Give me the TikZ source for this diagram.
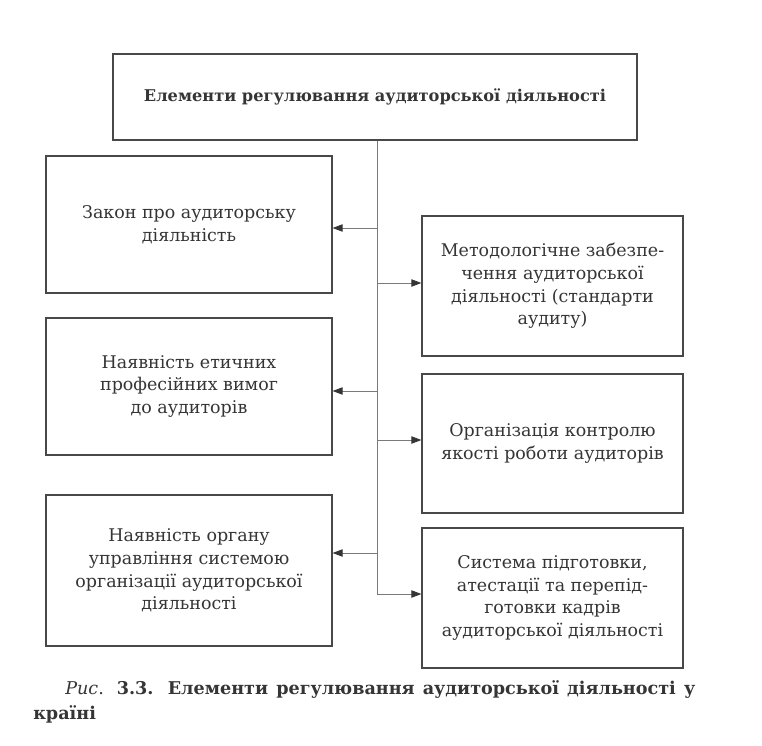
\documentclass[tikz,border=0pt]{standalone}
\usepackage{fontspec}
\setmainfont{DejaVu Serif}
\usetikzlibrary{arrows.meta}
\definecolor{ink}{HTML}{353535}
\definecolor{frame}{HTML}{484848}
\definecolor{wire}{HTML}{7A7A7A}
\begin{document}
\begin{tikzpicture}[x=0.75pt,y=-0.75pt,
  box/.style={draw=frame, line width=0.9pt, text=ink, align=center, inner sep=0pt,
    font=\fontsize{13.1}{17}\selectfont},
  lbox/.style={box, minimum width=214.5pt},
  rbox/.style={box, minimum width=195.75pt},
  wire/.style={draw=wire, line width=0.65pt},
  arr/.style={wire, -{Triangle[length=7.5pt,width=5.5pt,color=ink]}}]
\useasboundingbox[fill=white] (0,0) rectangle (762,745);

\node[box, minimum width=393pt, minimum height=64.5pt, font=\bfseries\fontsize{12.15}{14}\selectfont]
  (top) at (375,97) {Елементи регулювання аудиторської діяльності};

\node[lbox, minimum height=102.75pt] (L1) at (189,224.5)
  {Закон про аудиторську\\діяльність};
\node[lbox, minimum height=102.75pt] (L2) at (189,386.5)
  {Наявність етичних\\професійних вимог\\до аудиторів};
\node[lbox, minimum height=113.25pt] (L3) at (189,570.5)
  {Наявність органу\\управління системою\\організації аудиторської\\діяльності};

\node[rbox, minimum height=105pt] (R1) at (552.5,286)
  {Методологічне забезпе-\\чення аудиторської\\діяльності (стандарти\\аудиту)};
\node[rbox, minimum height=104.25pt] (R2) at (552.5,443.5)
  {Організація контролю\\якості роботи аудиторів};
\node[rbox, minimum height=105pt] (R3) at (552.5,598)
  {Система підготовки,\\атестації та перепід-\\готовки кадрів\\аудиторської діяльності};

\coordinate (jL1) at (377,228);
\coordinate (jR1) at (377,283);
\coordinate (jL2) at (377,391);
\coordinate (jR2) at (377,440);
\coordinate (jL3) at (377,553);
\coordinate (jR3) at (377,594);

\draw[wire] (top.south -| jL1) -- (jR3);
\draw[arr] (jL1) -- (L1.east |- jL1);
\draw[arr] (jL2) -- (L2.east |- jL2);
\draw[arr] (jL3) -- (L3.east |- jL3);
\draw[arr] (jR1) -- (R1.west |- jR1);
\draw[arr] (jR2) -- (R2.west |- jR2);
\draw[arr] (jR3) -- (R3.west |- jR3);

\node[anchor=north west, text width=496.5pt, align=justify, inner sep=0pt, text=ink,
  font=\fontsize{13.2}{19}\selectfont] (cap) at (33,680)
  {\hspace*{24pt}\textit{Рис}. \textbf{3.3. Елементи регулювання аудиторської діяльності у}\linebreak
   \textbf{країні}};
\end{tikzpicture}
\end{document}
